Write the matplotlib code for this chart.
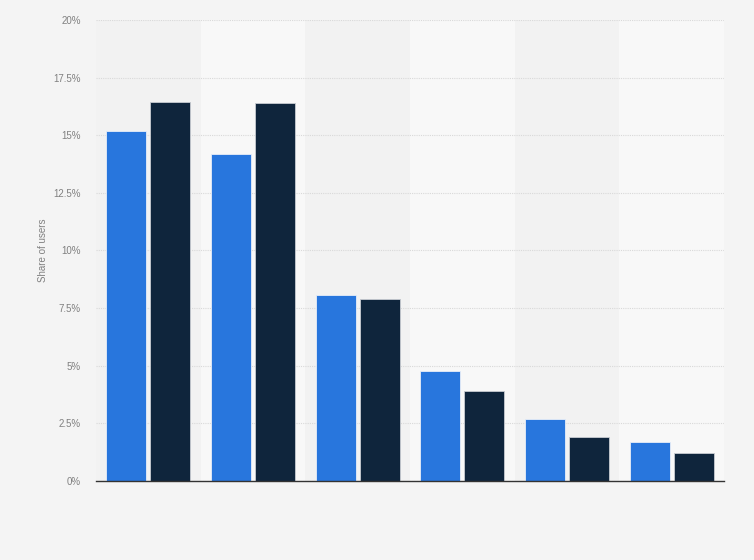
import numpy as np
import matplotlib.pyplot as plt
from matplotlib.ticker import FuncFormatter

plt.rcParams['font.family'] = ['Liberation Sans', 'DejaVu Sans']

# values (percent)
groups = ["1", "2", "3", "4", "5", "6"]
series_a = [15.2, 14.2, 8.05, 4.75, 2.7, 1.7]
series_b = [16.45, 16.4, 7.9, 3.9, 1.9, 1.2]
y_ticks = [0, 2.5, 5, 7.5, 10, 12.5, 15, 17.5, 20]

fig = plt.figure(figsize=(7.54, 5.6), dpi=100, facecolor="#f4f4f4")
ax = fig.add_axes([0.1273, 0.1411, 0.8329, 0.8232])
ax.set_facecolor("#f2f2f2")

x = np.arange(len(groups))
w = 0.38
for i in x:
    if i % 2 == 1:
        ax.axvspan(i - 0.5, i + 0.5, color="#f8f8f8", zorder=0, lw=0)

ax.bar(x - w / 2 - 0.02, series_a, w, color="#2876dd", edgecolor="#e8eef8", linewidth=0.6, zorder=3)
ax.bar(x + w / 2 + 0.02, series_b, w, color="#0f253c", edgecolor="#c8ccd2", linewidth=0.6, zorder=3)

ax.set_xlim(-0.5, len(groups) - 0.5)
ax.set_ylim(0, 20)
ax.set_yticks(y_ticks)
ax.yaxis.set_major_formatter(FuncFormatter(lambda v, p: f"{v:g}%"))
ax.grid(axis="y", color="#d9d9d9", linestyle=(0, (1, 1)), linewidth=0.8, zorder=1)
ax.set_xticks([])
ax.tick_params(axis="y", length=0, labelsize=7, labelcolor="#808080", pad=11)

for s in ["top", "right", "left"]:
    ax.spines[s].set_visible(False)
ax.spines["bottom"].set_color("#333333")
ax.spines["bottom"].set_linewidth(1.0)
ax.spines["bottom"].set_zorder(4)

ax.set_ylabel("Share of users", fontsize=7, color="#808080", labelpad=4)

fig.savefig("out.png", dpi=100, facecolor=fig.get_facecolor())
